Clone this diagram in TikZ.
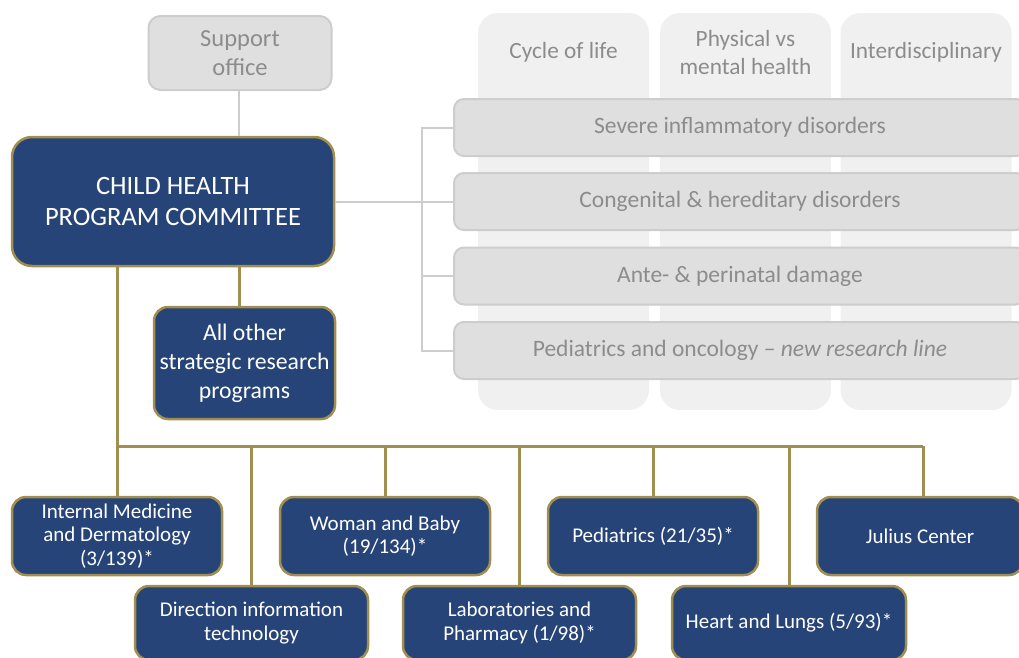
\documentclass[tikz,border=0pt]{standalone}
\usepackage{fontspec}
\setmainfont{Carlito}
\usetikzlibrary{positioning}
\definecolor{cblue}{RGB}{38,68,120}
\definecolor{cgold}{RGB}{160,143,80}
\definecolor{cgrey}{RGB}{224,223,224}
\definecolor{cgreyline}{RGB}{205,205,205}
\definecolor{ccol}{RGB}{240,240,240}
\definecolor{cgreytext}{RGB}{140,140,140}

\begin{document}
\begin{tikzpicture}[x=1pt,y=-1pt,
  unit/.style={draw=cgold,line width=2.5pt,fill=cblue,text=white,rounded corners=14pt,
    align=center,inner sep=0pt,font=\fontsize{21}{23.5}\selectfont},
  greybox/.style={draw=cgreyline,line width=2pt,fill=cgrey,text=cgreytext,rounded corners=10pt,
    align=center,inner sep=0pt,font=\fontsize{23.5}{28}\selectfont},
  colbox/.style={fill=ccol,rounded corners=20pt,inner sep=0pt,minimum width=171,minimum height=397},
  coltext/.style={text=cgreytext,align=center,font=\fontsize{23.3}{28}\selectfont},
  goldconn/.style={draw=cgold,line width=3pt},
  greyconn/.style={draw=cgreyline,line width=2pt}]
  \useasboundingbox (0,0) rectangle (1019,657);
  % themes in the background
  \node[colbox] (life) at (563.5,211.5) {};
  \node[colbox] (mental) at (745.5,211.5) {};
  \node[colbox] (inter) at (926,211.5) {};
  \node[coltext] (lifetxt) at (563.5,52) {Cycle of life};
  \node[coltext] (mentaltxt) at (745.5,52) {Physical vs\\mental health};
  \node[coltext] (intertxt) at (926,52) {Interdisciplinary};
  % research lines
  \node[greybox,minimum width=572,minimum height=57] (inflam) at (740,127.5) {Severe inflammatory disorders};
  \node[greybox,minimum width=572,minimum height=57] (congen) at (740,201.5) {Congenital \& hereditary disorders};
  \node[greybox,minimum width=572,minimum height=57] (ante) at (740,276) {Ante- \& perinatal damage};
  \node[greybox,minimum width=572,minimum height=57] (oncol) at (740,350.5) {Pediatrics and oncology -- \textit{new research line}};
  % committee
  \node[greybox,rounded corners=12pt,minimum width=183,minimum height=74,font=\fontsize{24.5}{29}\selectfont] (support) at (240,53) {Support\\office};
  \node[unit,rounded corners=20pt,minimum width=322,minimum height=129,font=\fontsize{26.5}{31}\selectfont] (committee) at (173,201.5) {CHILD HEALTH\\PROGRAM COMMITTEE};
  \node[unit,minimum width=181,minimum height=112,font=\fontsize{23.7}{29}\selectfont] (others) at (244.5,363) {All other\\strategic research\\programs};
  % divisions
  \node[unit,minimum width=210,minimum height=78] (intmed) at (117,536) {Internal Medicine\\and Dermatology\\(3/139)*};
  \node[unit,minimum width=210,minimum height=78] (woman) at (385,536) {Woman and Baby\\(19/134)*};
  \node[unit,minimum width=210,minimum height=78] (peds) at (653,536) {Pediatrics (21/35)*};
  \node[unit,minimum width=206,minimum height=78] (julius) at (920,536) {Julius Center};
  \node[unit,minimum width=233,minimum height=74] (dit) at (251.5,623) {Direction information\\technology};
  \node[unit,minimum width=233,minimum height=74] (lab) at (519.5,623) {Laboratories and\\Pharmacy (1/98)*};
  \node[unit,minimum width=234,minimum height=74] (heart) at (789,623) {Heart and Lungs (5/93)*};
  \coordinate (bus) at (0,446);
  % grey connectors
  \draw[greyconn] ([xshift=-1]support.south) -- ([xshift=-1]support.south |- committee.north);
  \draw[greyconn] (committee.east) -- (congen.west);
  \draw[greyconn] (inflam.west) -- ++(-31,0) |- (oncol.west);
  \draw[greyconn] (ante.west) -- ++(-31,0);
  % gold connectors
  \draw[goldconn] (committee.south -| intmed) -- (intmed.north);
  \draw[goldconn] ([xshift=-5.5]others.north |- committee.south) -- ([xshift=-5.5]others.north);
  \draw[goldconn] (bus -| intmed) -- ([xshift=3]bus -| julius);
  \foreach \d in {dit,woman,lab,peds,heart}
    \draw[goldconn] (bus -| \d) -- (\d.north);
  \draw[goldconn] ([xshift=3]bus -| julius) -- ([xshift=3]julius.north);
\end{tikzpicture}
\end{document}
